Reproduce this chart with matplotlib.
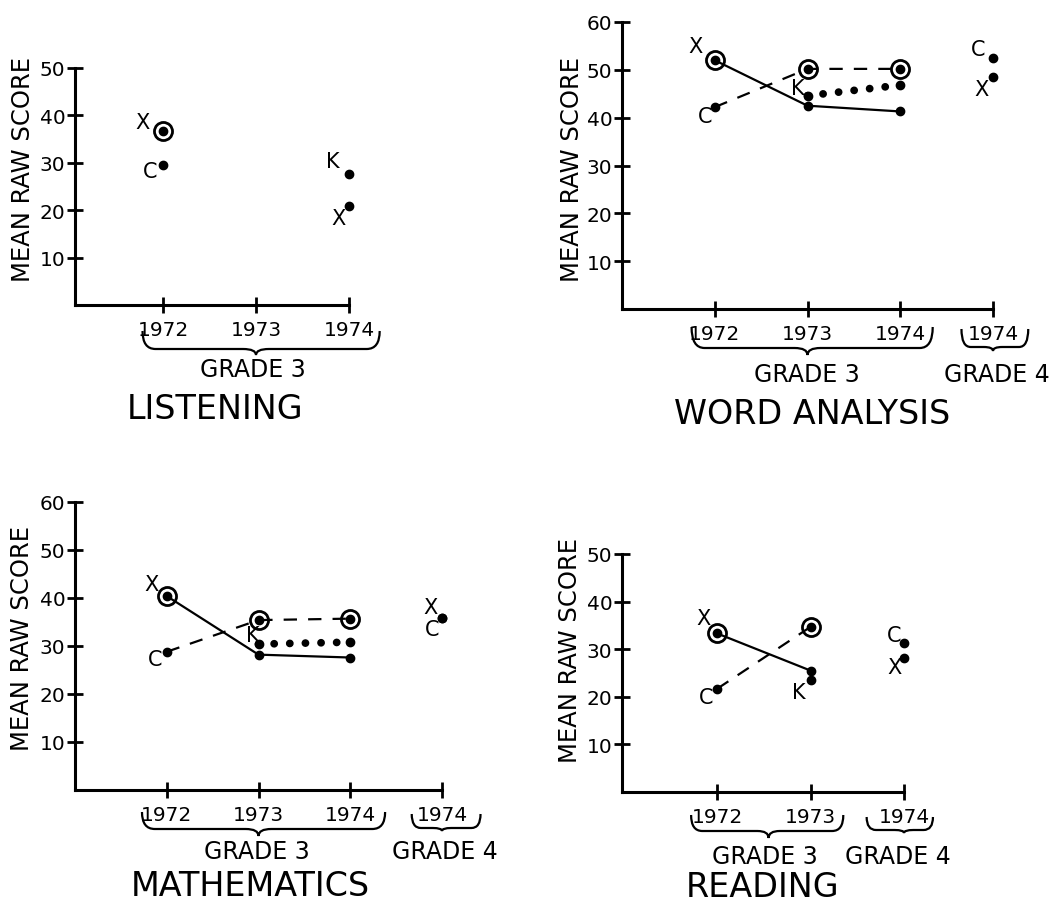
import matplotlib
matplotlib.use("Agg")
import matplotlib.pyplot as plt
from matplotlib import transforms
from matplotlib.path import Path
from matplotlib.patches import PathPatch

plt.rcParams['font.family'] = ['DejaVu Sans', 'Liberation Sans']

W, H = 1055, 904

# ---------------- data ----------------
grade3_years = ["1972", "1973", "1974"]
grade4_years = ["1974"]

# LISTENING: grade 3 only, unconnected points
listening_group = ["X", "C", "K", "X"]
listening_pos = [1, 1, 3, 3]
listening_score = [36.7, 29.5, 27.6, 20.9]
listening_ring = [0]

# WORD ANALYSIS
word_x_pos, word_x_score = [1, 2, 3], [52.0, 42.5, 41.3]
word_c_pos, word_c_score = [1, 2, 3], [42.2, 50.2, 50.2]
word_k_pos, word_k_score = [2, 3], [44.6, 46.8]
word_g4_group, word_g4_score = ["C", "X"], [52.5, 48.6]

# MATHEMATICS
math_x_pos, math_x_score = [1, 2, 3], [40.4, 28.2, 27.6]
math_c_pos, math_c_score = [1, 2, 3], [28.8, 35.4, 35.7]
math_k_pos, math_k_score = [2, 3], [30.4, 30.8]
math_g4_group, math_g4_score = ["X", "C"], [35.8, 35.8]

# READING
read_x_pos, read_x_score = [1, 2], [33.3, 25.5]
read_c_pos, read_c_score = [1, 2], [21.7, 34.7]
read_k_pos, read_k_score = [2], [23.6]
read_g4_group, read_g4_score = ["C", "X"], [31.3, 28.2]

# ---------------- styles ----------------
STYLE = {
    "X": dict(ls="-", lw=1.6, solid_capstyle="round"),
    "C": dict(ls=(0, (6, 5)), lw=1.6),
    "K": dict(ls=(0, (0.01, 2.0)), lw=5.6, dash_capstyle="round"),
}
LETTER_FS = 15
TICK_FS = 14.5
GRADE_FS = 17
TITLE_FS = 24
YLAB_FS = 17.5

fig = plt.figure(figsize=(W / 100, H / 100), dpi=100)
fig.patch.set_facecolor("white")


def px(x, y):
    return x / W, 1 - y / H


def make_axes(left, right, base, top, xlim, ymax, years):
    ax = fig.add_axes([left / W, 1 - base / H, (right - left) / W, (base - top) / H])
    ax.set_xlim(*xlim)
    ax.set_ylim(0, ymax)
    ax.patch.set_alpha(0)
    for s in ("top", "right"):
        ax.spines[s].set_visible(False)
    for s in ("left", "bottom"):
        ax.spines[s].set_linewidth(2.2)
    ax.set_yticks(range(10, ymax + 1, 10))
    ax.set_xticks(range(1, len(years) + 1))
    ax.set_xticklabels(years)
    ax.tick_params(axis="both", direction="inout", length=12, width=2,
                   labelsize=TICK_FS)
    ax.tick_params(axis="y", pad=1)
    ax.tick_params(axis="x", pad=5)
    return ax


def series(ax, group, pos, score, rings=(), connect=True):
    if connect and len(pos) > 1:
        ax.plot(pos, score, color="k", **STYLE[group], zorder=2)
    ax.plot(pos, score, "o", ms=6, color="k", zorder=3, clip_on=False)
    for i in rings:
        ax.plot(pos[i], score[i], "o", ms=13, mfc="none", mec="k", mew=2,
                zorder=3, clip_on=False)


def letter(ax, text, x, y, dx, dy):
    ax.annotate(text, (x, y), xytext=(dx, dy), textcoords="offset pixels",
                ha="center", va="center", fontsize=LETTER_FS, annotation_clip=False)


def brace(ax, x0, x1, xc, top, mid, tip, r=0.14):
    trans = transforms.blended_transform_factory(ax.transData,
                                                 transforms.IdentityTransform())
    T, M, P = H - top, H - mid, H - tip
    verts = [(x0, T), (x0, M), (x0 + r, M), (xc - r, M), (xc, M), (xc, P),
             (xc, M), (xc + r, M), (x1 - r, M), (x1, M), (x1, T)]
    codes = [Path.MOVETO, Path.CURVE3, Path.CURVE3, Path.LINETO, Path.CURVE3,
             Path.CURVE3, Path.CURVE3, Path.CURVE3, Path.LINETO, Path.CURVE3,
             Path.CURVE3]
    patch = PathPatch(Path(verts, codes), transform=trans, fill=False,
                      lw=1.6, color="k", clip_on=False)
    ax.add_patch(patch)


def ftext(x, y, s, fs, **kw):
    fig.text(*px(x, y), s, ha="center", va="center", fontsize=fs, **kw)


# ---------------- LISTENING ----------------
ax1 = make_axes(75, 349, 306, 69, (0.054, 3), 50, grade3_years)
for i, (g, p, v) in enumerate(zip(listening_group, listening_pos, listening_score)):
    series(ax1, g, [p], [v], rings=[0] if i in listening_ring else ())
for (g, p, v), (dx, dy) in zip(zip(listening_group, listening_pos, listening_score),
                              [(-20, 9), (-13, -6), (-16, 13), (-10, -12)]):
    letter(ax1, g, p, v, dx, dy)
brace(ax1, 0.78, 3.33, 2.0, 332, 350, 356)
ftext(23, 169, "MEAN RAW SCORE", YLAB_FS, rotation=90)
ftext(253, 370, "GRADE 3", GRADE_FS)
ftext(215, 410, "LISTENING", TITLE_FS)

# ---------------- WORD ANALYSIS ----------------
ax2 = make_axes(622, 993, 310, 23, (0, 4), 60, grade3_years + grade4_years)
series(ax2, "X", word_x_pos, word_x_score, rings=[0])
series(ax2, "C", word_c_pos, word_c_score, rings=[1, 2])
series(ax2, "K", word_k_pos, word_k_score)
series(ax2, "C", [4] * len(word_g4_score), word_g4_score, connect=False)
letter(ax2, "X", word_x_pos[0], word_x_score[0], -19, 14)
letter(ax2, "C", word_c_pos[0], word_c_score[0], -10, -9)
letter(ax2, "K", word_k_pos[0], word_k_score[0], -10, 8)
for g, v, (dx, dy) in zip(word_g4_group, word_g4_score, [(-15, 9), (-12, -12)]):
    letter(ax2, g, 4, v, dx, dy)
brace(ax2, 0.75, 3.35, 2.0, 328, 349, 356)
brace(ax2, 3.66, 4.38, 4.0, 330, 348, 352, r=0.1)
ftext(572, 169, "MEAN RAW SCORE", YLAB_FS, rotation=90)
ftext(807, 375, "GRADE 3", GRADE_FS)
ftext(997, 375, "GRADE 4", GRADE_FS)
ftext(812, 415, "WORD ANALYSIS", TITLE_FS)

# ---------------- MATHEMATICS ----------------
ax3 = make_axes(75, 442, 791, 503, (0, 4), 60, grade3_years + grade4_years)
series(ax3, "X", math_x_pos, math_x_score, rings=[0])
series(ax3, "C", math_c_pos, math_c_score, rings=[1, 2])
series(ax3, "K", math_k_pos, math_k_score)
series(ax3, "C", [4] * len(math_g4_score), math_g4_score, connect=False)
letter(ax3, "X", math_x_pos[0], math_x_score[0], -15, 12)
letter(ax3, "C", math_c_pos[0], math_c_score[0], -12, -7)
letter(ax3, "K", math_k_pos[0], math_k_score[0], -6, 9)
for g, v, (dx, dy) in zip(math_g4_group, math_g4_score, [(-12, 11), (-10, -11)]):
    letter(ax3, g, 4, v, dx, dy)
brace(ax3, 0.73, 3.38, 2.0, 813, 830, 837)
brace(ax3, 3.67, 4.42, 4.0, 815, 829, 832, r=0.1)
ftext(22, 639, "MEAN RAW SCORE", YLAB_FS, rotation=90)
ftext(257, 852, "GRADE 3", GRADE_FS)
ftext(445, 852, "GRADE 4", GRADE_FS)
ftext(250, 887, "MATHEMATICS", TITLE_FS)

# ---------------- READING ----------------
ax4 = make_axes(622, 904, 793, 555, (-0.02, 3), 50, grade3_years[:2] + grade4_years)
series(ax4, "X", read_x_pos, read_x_score, rings=[0])
series(ax4, "C", read_c_pos, read_c_score, rings=[1])
series(ax4, "K", read_k_pos, read_k_score)
series(ax4, "C", [3] * len(read_g4_score), read_g4_score, connect=False)
letter(ax4, "X", read_x_pos[0], read_x_score[0], -14, 15)
letter(ax4, "C", read_c_pos[0], read_c_score[0], -11, -8)
letter(ax4, "K", read_k_pos[0], read_k_score[0], -12, -12)
for g, v, (dx, dy) in zip(read_g4_group, read_g4_score, [(-10, 8), (-10, -9)]):
    letter(ax4, g, 3, v, dx, dy)
brace(ax4, 0.72, 2.35, 1.55, 816, 832, 839, r=0.12)
brace(ax4, 2.6, 3.31, 3.0, 818, 831, 834, r=0.1)
ftext(570, 651, "MEAN RAW SCORE", YLAB_FS, rotation=90)
ftext(765, 857, "GRADE 3", GRADE_FS)
ftext(898, 857, "GRADE 4", GRADE_FS)
ftext(763, 888, "READING", TITLE_FS)

fig.savefig("out.png", dpi=100, facecolor="white")
